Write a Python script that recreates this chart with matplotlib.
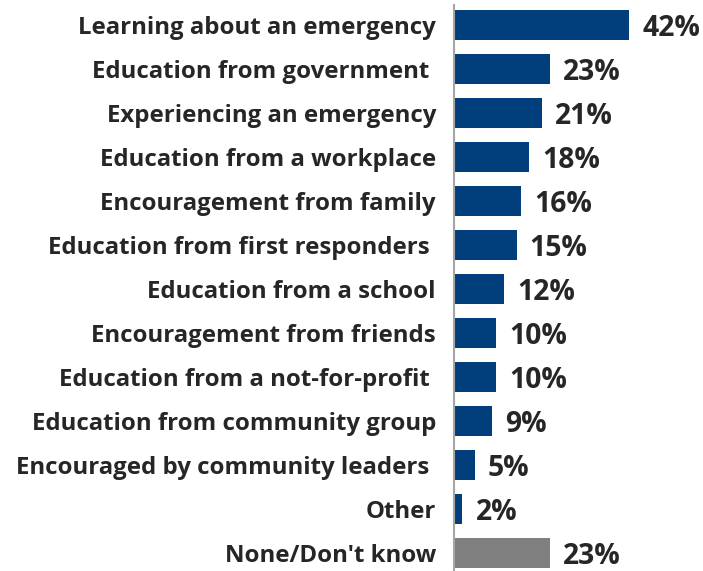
import matplotlib
matplotlib.use("Agg")
import matplotlib.pyplot as plt

categories = [
    "Learning about an emergency",
    "Education from government ",
    "Experiencing an emergency",
    "Education from a workplace",
    "Encouragement from family",
    "Education from first responders ",
    "Education from a school",
    "Encouragement from friends",
    "Education from a not-for-profit ",
    "Education from community group",
    "Encouraged by community leaders ",
    "Other",
    "None/Don't know",
]
values = [42, 23, 21, 18, 16, 15, 12, 10, 10, 9, 5, 2, 23]
colors = ["#003F7B"] * 12 + ["#808080"]

plt.rcParams['font.family'] = ['Open Sans', 'DejaVu Sans']

fig = plt.figure(figsize=(7.03, 5.71), dpi=100)
ax = fig.add_axes([0.6458, 0.0, 0.3542, 0.991])

ypos = list(range(len(categories)))
ax.barh(ypos, values, height=0.68, color=colors)
ax.set_ylim(12.41, -0.45)
ax.set_xlim(0, 59.7)

ax.set_yticks(ypos)
ax.set_yticklabels(categories, fontsize=17.3, fontweight='bold', color='#262626')
ax.tick_params(axis='y', length=0, pad=13)
ax.set_xticks([])

for y, v in zip(ypos, values):
    ax.annotate(f"{v}%", (v, y), xytext=(9.5, 0), textcoords='offset points',
                va='center_baseline', ha='left', fontsize=20.3, fontweight='bold', color='#262626')

for s in ['top', 'right', 'bottom']:
    ax.spines[s].set_visible(False)
ax.spines['left'].set_color('#A6A6A6')
ax.spines['left'].set_linewidth(1.5)

fig.savefig("out.png", dpi=100)
